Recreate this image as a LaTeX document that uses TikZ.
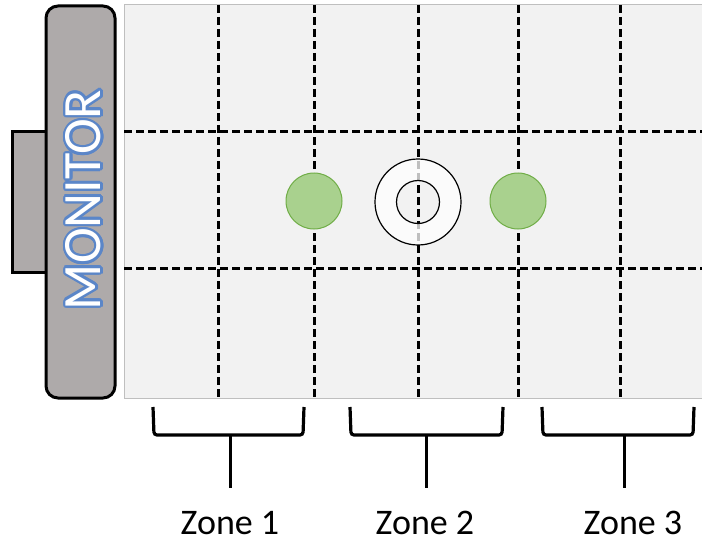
\documentclass[tikz,border=0pt]{standalone}
\usepackage{fontspec}
\setmainfont{Carlito}
\usetikzlibrary{calc}
\definecolor{gridbg}{HTML}{F2F2F2}
\definecolor{gridedge}{HTML}{BFBFBF}
\definecolor{mongray}{HTML}{AEAAAA}
\definecolor{dotfill}{HTML}{A9D18E}
\definecolor{dotedge}{HTML}{70AD47}
\definecolor{wordblue}{HTML}{5B86C8}
\tikzset{
  gridline/.style={line width=3pt, dash pattern=on 8pt off 4pt},
  dev/.style={draw=black, line width=3pt, fill=mongray},
  dot/.style={circle, minimum size=56pt, inner sep=0pt, fill=dotfill, draw=dotedge, line width=1pt},
  brace/.style={line width=3.2pt, rounded corners=3pt},
  stem/.style={line width=3pt},
  zonelabel/.style={font=\fontsize{36}{40}\selectfont, inner sep=0pt},
  montxt/.style={rotate=90, font=\fontsize{54}{58}\selectfont, inner sep=0pt},
}
\begin{document}
\begin{tikzpicture}[x=1pt, y=-1pt]
\useasboundingbox (0,0) rectangle (702,543);
% grid area
\fill[gridbg] (124,5) rectangle (710,398);
\draw[gridedge, line width=1pt] (710,5) -- (124,5) -- (124,398) -- (710,398);
\foreach \x in {218,314,418,518,620} \draw[gridline] (\x,5) -- (\x,398);
\foreach \y in {131,268} \draw[gridline] (124,\y) -- (710,\y);
% dots
\node[dot] (d1) at (314,201) {};
\node[dot] (d2) at (518,201) {};
% ring
\coordinate (ring) at (418,202);
\fill[white, opacity=0.75, even odd rule] (ring) circle (43) (ring) circle (21.5);
\draw[line width=1.2pt] (ring) circle (43);
\draw[line width=1.2pt] (ring) circle (21.5);
% monitor
\draw[dev] (12,131) rectangle (46,272);
\draw[dev, rounded corners=12pt] (46,6) rectangle (115,398);
\coordinate (mt) at (83.5,200);
\foreach \a in {0,22.5,...,359}
  \node[montxt, text=wordblue] at ($(mt)+(\a:2.4)$) {MONITOR};
\node[montxt, text=white] (montext) at (mt) {MONITOR};
% brackets
\foreach \l/\r/\m/\n in {153/304/230/1, 350/503/426/2, 542/694/624/3}{
  \draw[brace] (\l,407) -- (\l+1,435) -- (\r-1,435) -- (\r,407);
  \coordinate (b\n) at (\m,435);
  \coordinate (s\n) at (\m,488);
  \draw[stem] (b\n) -- (s\n);
}
\node[zonelabel] (z1) at (230,523) {Zone 1};
\node[zonelabel] (z2) at (425,523) {Zone 2};
\node[zonelabel] (z3) at (633,523) {Zone 3};
\end{tikzpicture}
\end{document}
